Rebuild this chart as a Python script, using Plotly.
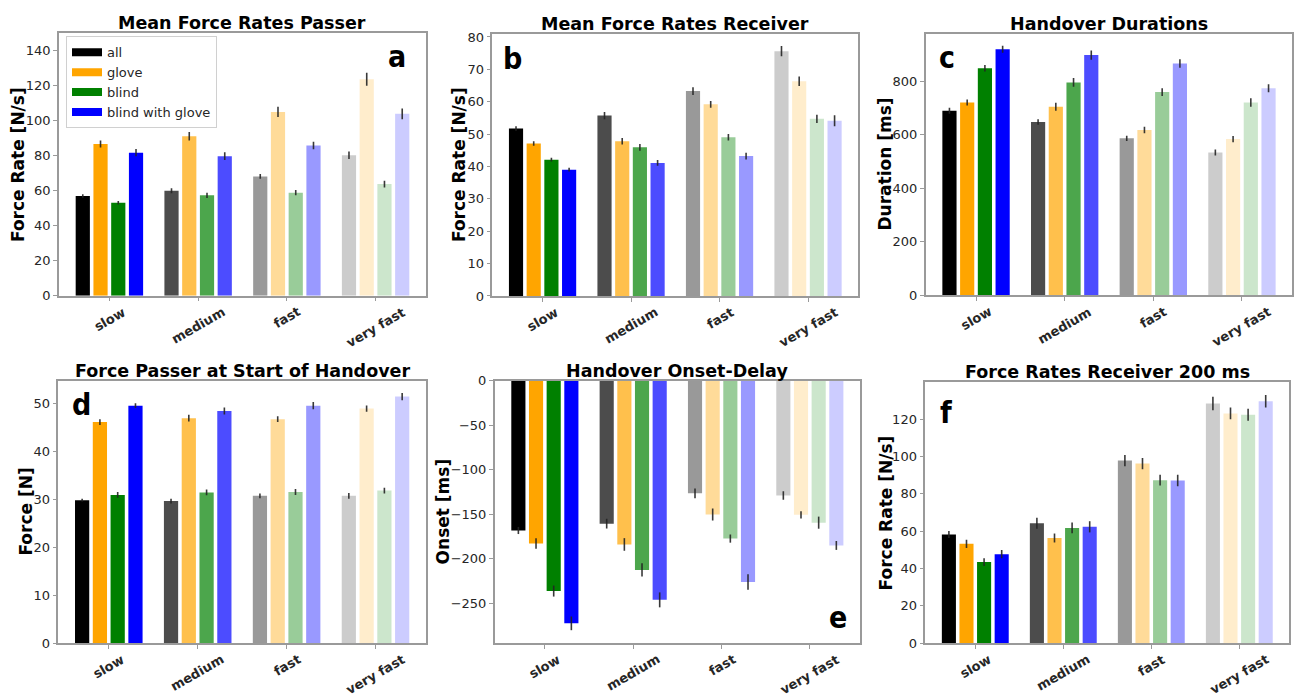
import plotly.graph_objects as go

# ---------------------------------------------------------------- data
speeds = ["slow", "medium", "fast", "very fast"]
conditions = ["all", "glove", "blind", "blind with glove"]

# rows: all, glove, blind, blind with glove ; columns: speeds
passer_rate_mean = [[57.0, 60.0, 68.2, 80.3],
                    [86.7, 91.2, 105.1, 123.8],
                    [53.1, 57.4, 58.9, 63.8],
                    [81.8, 79.8, 85.9, 104.0]]
passer_rate_err = [[1.0, 1.4, 1.4, 2.1],
                   [2.0, 2.4, 2.9, 3.7],
                   [1.0, 1.5, 1.5, 1.9],
                   [2.1, 2.2, 2.2, 3.1]]

receiver_rate_mean = [[51.7, 55.7, 63.3, 75.6],
                      [47.1, 47.8, 59.2, 66.3],
                      [42.1, 45.9, 49.0, 54.7],
                      [39.0, 41.1, 43.2, 54.1]]
receiver_rate_err = [[0.7, 1.1, 1.2, 1.6],
                     [0.7, 1.0, 1.05, 1.45],
                     [0.6, 1.05, 1.0, 1.25],
                     [0.6, 0.9, 1.05, 1.7]]

duration_mean = [[690, 648, 587, 534],
                 [721, 705, 618, 584],
                 [849, 796, 760, 721],
                 [920, 898, 867, 774]]
duration_err = [[11, 10, 10, 11],
                [11, 14.6, 12, 12],
                [12, 16.5, 14.6, 16],
                [13.4, 17, 16, 15]]

start_force_mean = [[29.8, 29.6, 30.7, 30.7],
                    [46.1, 46.9, 46.7, 48.9],
                    [30.9, 31.4, 31.5, 31.8],
                    [49.5, 48.4, 49.5, 51.4]]
start_force_err = [[0.3, 0.5, 0.5, 0.6],
                   [0.6, 0.7, 0.6, 0.65],
                   [0.6, 0.6, 0.6, 0.6],
                   [0.5, 0.75, 0.75, 0.75]]

onset_mean = [[-168.3, -160.6, -126.5, -129.0],
              [-182.9, -184.0, -150.3, -150.7],
              [-236.4, -212.6, -177.4, -159.5],
              [-272.7, -246.3, -226.2, -185.1]]
onset_err = [[4.0, 5.5, 5.5, 4.8],
             [5.9, 7.1, 6.8, 4.0],
             [6.2, 7.5, 4.6, 6.8],
             [7.7, 8.4, 8.6, 5.0]]

receiver_200_mean = [[58.2, 64.2, 97.8, 128.4],
                     [53.2, 56.3, 96.2, 123.1],
                     [43.4, 61.7, 87.3, 122.4],
                     [47.6, 62.3, 87.1, 129.6]]
receiver_200_err = [[1.9, 2.9, 3.0, 3.6],
                    [2.2, 2.4, 3.0, 3.2],
                    [2.1, 2.9, 2.9, 3.2],
                    [2.2, 3.0, 3.1, 3.4]]

# ---------------------------------------------------------------- style
W, H = 1299, 697
FONT = "DejaVu Sans"
TEXT = "#262626"
FRAME = "#9a9a9a"
base_rgb = [(0, 0, 0), (255, 165, 0), (0, 128, 0), (0, 0, 255)]
speed_alpha = [1.0, 0.7, 0.4, 0.2]

panels = [
    dict(title="Mean Force Rates Passer", ytitle="Force Rate [N/s]", letter="a",
         mean=passer_rate_mean, err=passer_rate_err, yrange=[0, 150], dtick=20,
         box=(59, 27, 426, 295), ytx=17.5, letter_xy=(396.8, 61.7)),
    dict(title="Mean Force Rates Receiver", ytitle="Force Rate [N/s]", letter="b",
         mean=receiver_rate_mean, err=receiver_rate_err, yrange=[0, 81.0], dtick=10,
         box=(492.3, 27.3, 858.3, 295.3), ytx=459.2, letter_xy=(512.3, 63.3)),
    dict(title="Handover Durations", ytitle="Duration [ms]", letter="c",
         mean=duration_mean, err=duration_err, yrange=[0, 978], dtick=200,
         box=(925.7, 27.3, 1292.3, 294.7), ytx=885, letter_xy=(947.5, 62)),
    dict(title="Force Passer at Start of Handover", ytitle="Force [N]", letter="d",
         mean=start_force_mean, err=start_force_err, yrange=[0, 54.7], dtick=10,
         box=(58.3, 382, 426, 650), ytx=25.7, letter_xy=(81.3, 416.7)),
    dict(title="Handover Onset-Delay", ytitle="Onset [ms]", letter="e",
         mean=onset_mean, err=onset_err, yrange=[-294.8, 0], dtick=50,
         box=(494.7, 382, 860, 650), ytx=442.5, letter_xy=(838.3, 635)),
    dict(title="Force Rates Receiver 200 ms", ytitle="Force Rate [N/s]", letter="f",
         mean=receiver_200_mean, err=receiver_200_err, yrange=[0, 139.7], dtick=20,
         box=(925.3, 383.7, 1289.3, 650), ytx=885.7, letter_xy=(945.8, 425)),
]


def rgba(rgb, a):
    return f"rgba({rgb[0]},{rgb[1]},{rgb[2]},{a})"


def px_x(x):
    return x / W


def px_y(y):
    return 1 - y / H


fig = go.Figure()
annotations = []
xpos = list(range(len(speeds)))

for i, p in enumerate(panels):
    n = "" if i == 0 else str(i + 1)
    xa, ya = "x" + n, "y" + n
    left, top, right, bottom = p["box"]

    for k, cond in enumerate(conditions):
        fig.add_trace(go.Bar(
            x=xpos, y=p["mean"][k], name=cond, showlegend=False,
            xaxis=xa, yaxis=ya, offsetgroup=str(k),
            marker=dict(color=[rgba(base_rgb[k], a) for a in speed_alpha],
                        line=dict(width=0)),
            error_y=dict(type="data", array=p["err"][k], visible=True,
                         color="rgba(35,35,35,0.9)", thickness=1.6, width=0),
        ))

    axis_common = dict(showline=True, mirror=True, linecolor=FRAME, linewidth=1.5,
                       showgrid=False, zeroline=False, ticks="outside",
                       ticklen=4, tickwidth=1, tickcolor=FRAME)
    fig.update_layout(**{
        ("xaxis" + n): dict(domain=[px_x(left), px_x(right)], anchor=ya,
                            range=[-0.568, 3.568], tickvals=xpos,
                            showticklabels=False, **axis_common),
        ("yaxis" + n): dict(domain=[px_y(bottom), px_y(top)], anchor=xa,
                            range=p["yrange"], dtick=p["dtick"],
                            tickfont=dict(family=FONT, size=13, color=TEXT),
                            **axis_common),
    })

    # rotated category labels
    for j, s in enumerate(speeds):
        annotations.append(dict(
            x=j, xref=xa, y=0, yref=ya + " domain", yshift=-6,
            xanchor="center", yanchor="top", textangle=-30, showarrow=False,
            text=f"<b>{s}</b>", font=dict(family=FONT, size=13, color=TEXT)))

    # panel title
    annotations.append(dict(
        x=0.5, xref=xa + " domain", y=1, yref=ya + " domain", yshift=10,
        xanchor="center", yanchor="middle", showarrow=False,
        text=f"<b>{p['title']}</b>", font=dict(family=FONT, size=17.5, color="black")))

    # y axis title
    annotations.append(dict(
        x=px_x(p["ytx"]), xref="paper", y=0.5, yref=ya + " domain",
        xanchor="center", yanchor="middle", textangle=-90, showarrow=False,
        text=f"<b>{p['ytitle']}</b>", font=dict(family=FONT, size=17, color="black")))

    # panel letter
    lx, lbase = p["letter_xy"]
    annotations.append(dict(
        x=px_x(lx), xref="paper", y=px_y(lbase - 10.7), yref="paper",
        xanchor="center", yanchor="middle", showarrow=False,
        text=f"<b>{p['letter']}</b>",
        font=dict(family="DejaVu Sans Condensed, DejaVu Sans", size=30, color="black")))

# legend entries shown as wide colour patches
for k, cond in enumerate(conditions):
    fig.add_trace(go.Scatter(
        x=[None], y=[None], mode="lines", name=cond, xaxis="x", yaxis="y",
        line=dict(color=rgba(base_rgb[k], 1.0), width=8), hoverinfo="skip"))

fig.update_layout(
    width=W, height=H, margin=dict(l=0, r=0, t=0, b=0),
    paper_bgcolor="white", plot_bgcolor="white",
    barmode="group", bargap=0.2, bargroupgap=0.2,
    annotations=annotations,
    legend=dict(x=px_x(66), y=px_y(30), xanchor="left", yanchor="top",
                bgcolor="white", bordercolor="#d0d0d0", borderwidth=1,
                font=dict(family=FONT, size=13, color=TEXT), tracegroupgap=0),
    font=dict(family=FONT),
)

fig.write_html("out.html")
